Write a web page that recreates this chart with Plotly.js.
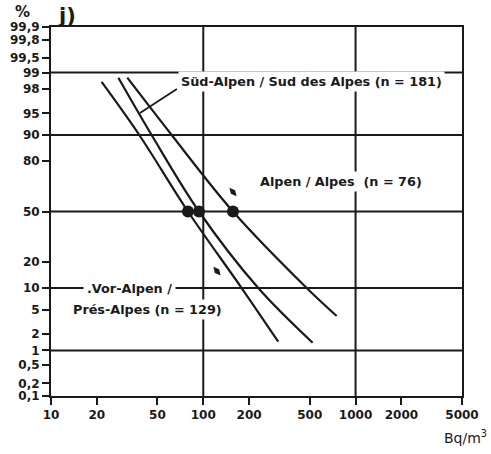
<!DOCTYPE html>
<html><head><meta charset="utf-8">
<script src="https://cdn.plot.ly/plotly-3.0.1.min.js"></script>
<style>html,body{margin:0;padding:0;background:#fff}#chart{width:491px;height:454px}</style>
</head><body><div id="chart"></div>
<script>
// ---- data ----
const vorX = [21.5, 38.0, 79.3, 178.6, 310.8];
const vorP = [98.5, 90, 50, 10, 1.46];
const sudX = [27.7, 45.8, 93.7, 229.6, 522.6];
const sudP = [98.75, 90, 50, 10, 1.4];
const alpX = [31.7, 62.0, 156.7, 477.6, 751.5];
const alpP = [98.75, 90, 50, 10, 4.0];
const medX = [79.3, 93.7, 156.7];
const medP = [50, 50, 50];
const arrX = [156.7, 123];
const arrP = [62.8, 15.9];
const xTicks = [10, 20, 50, 100, 200, 500, 1000, 2000, 5000];
const yTickP = [0.1, 0.2, 0.5, 1, 2, 5, 10, 20, 50, 80, 90, 95, 98, 99, 99.5, 99.8, 99.9];
const yTickText = ["0,1", "0,2", "0,5", "1", "2", "5", "10", "20", "50", "80", "90", "95", "98", "99", "99,5", "99,8", "99,9"];
const gridP = [99, 90, 50, 10, 1];
const gridX = [100, 1000];

// inverse normal CDF (probability axis)
function norminv(p){
  const a=[-3.969683028665376e+01,2.209460984245205e+02,-2.759285104469687e+02,1.383577518672690e+02,-3.066479806614716e+01,2.506628277459239e+00];
  const b=[-5.447609879822406e+01,1.615858368580409e+02,-1.556989798598866e+02,6.680131188771972e+01,-1.328068155288572e+01];
  const c=[-7.784894002430293e-03,-3.223964580411365e-01,-2.400758277161838e+00,-2.549732539343734e+00,4.374664141464968e+00,2.938163982698783e+00];
  const d=[7.784695709041462e-03,3.224671290700398e-01,2.445134137142996e+00,3.754408661907416e+00];
  const pl=0.02425, ph=1-pl; let q,r;
  if(p<pl){q=Math.sqrt(-2*Math.log(p));return (((((c[0]*q+c[1])*q+c[2])*q+c[3])*q+c[4])*q+c[5])/((((d[0]*q+d[1])*q+d[2])*q+d[3])*q+1);}
  if(p>ph){q=Math.sqrt(-2*Math.log(1-p));return -(((((c[0]*q+c[1])*q+c[2])*q+c[3])*q+c[4])*q+c[5])/((((d[0]*q+d[1])*q+d[2])*q+d[3])*q+1);}
  q=p-0.5;r=q*q;return (((((a[0]*r+a[1])*r+a[2])*r+a[3])*r+a[4])*r+a[5])*q/(((((b[0]*r+b[1])*r+b[2])*r+b[3])*r+b[4])*r+1);
}
const Z = arr => arr.map(v => norminv(v/100));
const L = v => Math.log10(v);

const FONT = 'DejaVu Sans, Arial, sans-serif';
const ink = '#1a1a1a';
const curve = (x, p) => ({x: x, y: Z(p), mode: 'lines', line: {color: ink, width: 2.2, shape: 'spline', smoothing: 1}, hoverinfo: 'skip', showlegend: false});

const traces = [
  curve(vorX, vorP), curve(sudX, sudP), curve(alpX, alpP),
  {x: medX, y: Z(medP), mode: 'markers', marker: {color: ink, size: 12}, showlegend: false},
  {x: arrX, y: Z(arrP), mode: 'markers', marker: {color: ink, size: 8, symbol: 'diamond-tall', angle: -40}, showlegend: false}
];

const zTop = norminv(0.999), zBot = norminv(0.001);
const shapes = [];
gridP.forEach(g => shapes.push({type: 'line', xref: 'x domain', yref: 'y', x0: 0, x1: 1, y0: norminv(g/100), y1: norminv(g/100), line: {color: ink, width: 2}, layer: 'below'}));
gridX.forEach(g => shapes.push({type: 'line', xref: 'x', yref: 'y domain', x0: g, x1: g, y0: 0, y1: 1, line: {color: ink, width: 2}, layer: 'below'}));
// leader line from Süd-Alpen label to its curve
shapes.push({type: 'line', xref: 'x', yref: 'y', x0: 67.1, y0: norminv(0.9799), x1: 38.4, y1: norminv(0.9505), line: {color: ink, width: 1.8}});

const lab = {family: FONT, size: 12.8, color: ink, weight: 'bold'};
const annotations = [
  {xref: 'x', yref: 'y', x: L(68.2), y: norminv(0.985), xanchor: 'left', yanchor: 'middle', text: 'Süd-Alpen / Sud des Alpes (n = 181)', showarrow: false, font: lab, bgcolor: '#fff', borderpad: 2},
  {xref: 'x', yref: 'y', x: L(226), y: norminv(0.691), xanchor: 'left', yanchor: 'middle', text: 'Alpen / Alpes\u00a0 (n = 76)', showarrow: false, font: lab, bgcolor: '#fff', borderpad: 2},
  {xref: 'x', yref: 'y', x: L(16.2), y: norminv(0.10), xanchor: 'left', yanchor: 'middle', text: '.Vor-Alpen /', showarrow: false, font: lab, bgcolor: '#fff', borderpad: 3},
  {xref: 'x', yref: 'y', x: L(13.4), y: norminv(0.05), xanchor: 'left', yanchor: 'middle', text: 'Prés-Alpes (n = 129)', showarrow: false, font: lab, bgcolor: '#fff', borderpad: 2},
  {xref: 'paper', yref: 'paper', x: -0.07, y: 1.04, xanchor: 'center', yanchor: 'middle', text: '%', showarrow: false, font: {family: FONT, size: 15, color: ink, weight: 'bold'}},
  {xref: 'paper', yref: 'paper', x: 0.012, y: 1.03, xanchor: 'left', yanchor: 'middle', text: 'j)', showarrow: false, font: {family: FONT, size: 21, color: ink, weight: 'bold'}},
  {xref: 'paper', yref: 'paper', x: 1.065, y: -0.11, xanchor: 'right', yanchor: 'middle', text: 'Bq/m<sup>3</sup>', showarrow: false, font: {family: FONT, size: 14, color: ink}}
];

const layout = {
  width: 491, height: 454,
  margin: {l: 51, r: 29, t: 27, b: 58},
  paper_bgcolor: '#fff', plot_bgcolor: '#fff',
  showlegend: false,
  xaxis: {type: 'log', range: [1, L(5000)], tickvals: xTicks, ticktext: xTicks.map(String), showgrid: false, zeroline: false,
          showline: true, mirror: true, linecolor: ink, linewidth: 2, ticks: 'outside', ticklen: 7, tickwidth: 2, tickcolor: ink,
          tickfont: {family: FONT, size: 12, color: ink, weight: 'bold'}},
  yaxis: {range: [zBot, zTop], tickvals: Z(yTickP), ticktext: yTickText, showgrid: false, zeroline: false,
          showline: true, mirror: true, linecolor: ink, linewidth: 2, ticks: 'outside', ticklen: 7, tickwidth: 2, tickcolor: ink,
          tickfont: {family: FONT, size: 12, color: ink, weight: 'bold'}},
  shapes: shapes,
  annotations: annotations
};
Plotly.newPlot('chart', traces, layout, {displayModeBar: false, staticPlot: true});
</script>
</body></html>
